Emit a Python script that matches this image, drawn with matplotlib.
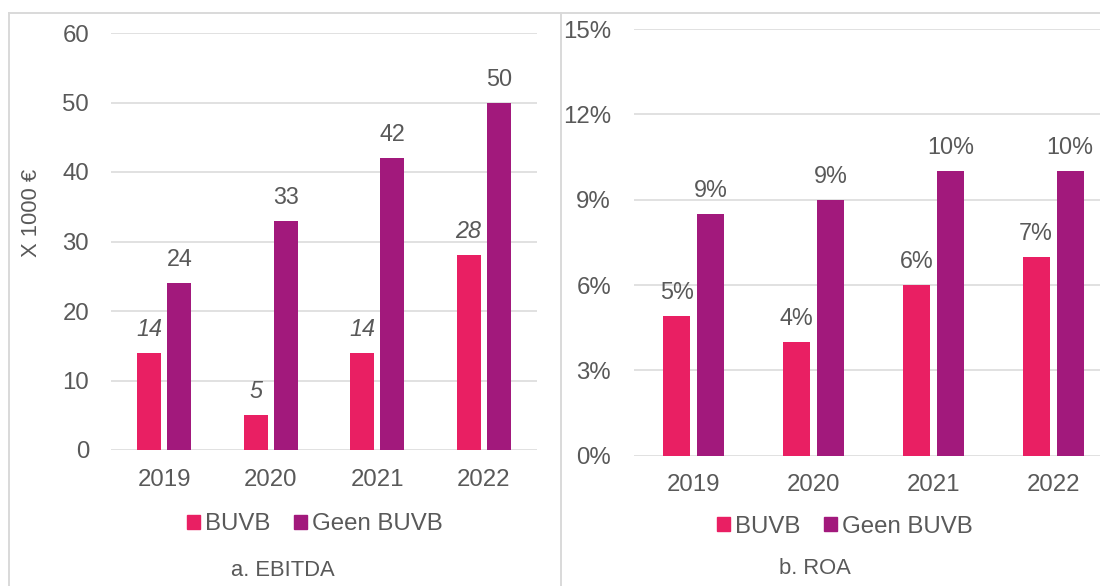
import matplotlib.pyplot as plt
from matplotlib.lines import Line2D
from matplotlib.patches import Patch
import numpy as np

# data
years = ['2019', '2020', '2021', '2022']
ebitda_buvb = [14, 5, 14, 28]
ebitda_geen = [24, 33, 42, 50]
roa_buvb = [0.049, 0.04, 0.06, 0.07]
roa_geen = [0.085, 0.09, 0.10, 0.10]
series_names = ['BUVB', 'Geen BUVB']

# style
pink = '#E91F63'
purple = '#A2197C'
grey_txt = '#595959'
grid_col = '#D9D9D9'
plt.rcParams['font.family'] = ['Liberation Sans', 'DejaVu Sans']

W, H = 1100, 586
fig = plt.figure(figsize=(W / 100, H / 100), dpi=100)

def px_axes(x0, x1, ytop, ybot):
    return fig.add_axes([x0 / W, (H - ybot) / H, (x1 - x0) / W, (ybot - ytop) / H])

ax1 = px_axes(111, 537, 33, 450)
ax2 = px_axes(634, 1113, 29, 455.7)

bw = 0.225
off = 0.142
x = np.arange(len(years))

def setup(ax, ymax, step, fmt, ypad):
    ax.set_xlim(-0.5, len(years) - 0.5)
    ax.set_ylim(0, ymax)
    ax.set_yticks(np.arange(0, ymax + step / 2, step))
    ax.set_yticklabels([fmt(v) for v in np.arange(0, ymax + step / 2, step)])
    ax.set_xticks(x)
    ax.set_xticklabels(years)
    for s in ax.spines.values():
        s.set_visible(False)
    ax.tick_params(axis='y', length=0, pad=ypad, labelsize=17.3, labelcolor=grey_txt)
    ax.tick_params(axis='x', length=0, pad=13.5, labelsize=17.3, labelcolor=grey_txt)
    ax.yaxis.grid(True, color=grid_col, linewidth=1.1)
    ax.set_axisbelow(True)

def bars(ax, a, b, fmt, italic_a):
    ax.bar(x - off, a, bw, color=pink, zorder=3)
    ax.bar(x + off, b, bw, color=purple, zorder=3)
    for xi, v in zip(x - off, a):
        ax.annotate(fmt(v), (xi, v), xytext=(0, 12.2), textcoords='offset points',
                    ha='center', va='baseline', fontsize=16.8, color=grey_txt,
                    style='italic' if italic_a else 'normal')
    for xi, v in zip(x + off, b):
        ax.annotate(fmt(v), (xi, v), xytext=(0, 12.2), textcoords='offset points',
                    ha='center', va='baseline', fontsize=16.8, color=grey_txt)

pct = lambda v: '%d%%' % int(v * 100 + 0.5)

setup(ax1, 60, 10, lambda v: '%d' % v, 15.8)
bars(ax1, ebitda_buvb, ebitda_geen, lambda v: '%d' % v, True)

setup(ax2, 0.15, 0.03, pct, 16.5)
bars(ax2, roa_buvb, roa_geen, pct, False)

# legends
handles = [Patch(color=pink, label=series_names[0]), Patch(color=purple, label=series_names[1])]
for cx, cy in [(315, 524.5), (845, 526.7)]:
    leg = fig.legend(handles=handles, loc='center', bbox_to_anchor=(cx / W, (H - cy) / H),
                     ncol=2, frameon=False, fontsize=17.3, handlelength=0.53, handleheight=0.53,
                     handletextpad=0.22, columnspacing=1.0, borderpad=0, borderaxespad=0)
    for t in leg.get_texts():
        t.set_color(grey_txt)

# y label and captions
fig.text(31.5 / W, (H - 212.6) / H, 'X 1000 €', rotation=90, ha='center', va='center',
         fontsize=15.8, color=grey_txt)
fig.text(283 / W, (H - 570) / H, 'a. EBITDA', ha='center', va='center', fontsize=15.8, color=grey_txt)
fig.text(815 / W, (H - 569) / H, 'b. ROA', ha='center', va='center', fontsize=15.8, color=grey_txt)

# panel borders
border = dict(color=grid_col, linewidth=1.4, transform=fig.transFigure)
fig.add_artist(Line2D([9 / W, 1], [(H - 12.7) / H] * 2, **border))
fig.add_artist(Line2D([9 / W] * 2, [0, (H - 12.7) / H], **border))
fig.add_artist(Line2D([561 / W] * 2, [0, (H - 12.7) / H], **border))

fig.savefig('out.png', dpi=100)
